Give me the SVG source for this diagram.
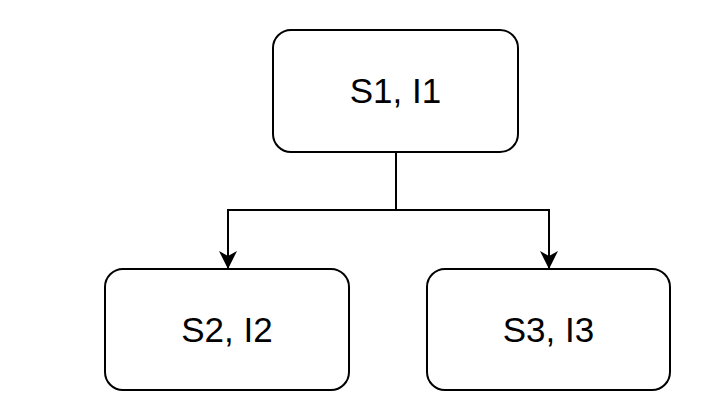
<svg xmlns="http://www.w3.org/2000/svg" width="724" height="406" viewBox="0 0 724 406">
<style>
.box{fill:#fff;stroke:#000;stroke-width:2}
.lbl{font-family:"Liberation Sans",Arial,sans-serif;font-size:35px;fill:#000;text-anchor:middle}
.edge{fill:none;stroke:#000;stroke-width:2}
</style>
<defs>
<marker id="arr" markerWidth="18" markerHeight="18" refX="17" refY="9" orient="auto" markerUnits="userSpaceOnUse" viewBox="0 0 18 18">
<path d="M0,0 L18,9 L0,18 L5,9 Z" fill="#000"/>
</marker>
</defs>
<rect width="724" height="406" fill="#fff"/>
<g id="connectors">
<path class="edge" d="M396,153 V210 H228 V268" marker-end="url(#arr)"/>
<path class="edge" d="M396,210 H549 V268" marker-end="url(#arr)"/>
</g>
<g id="n1">
<rect class="box" x="273" y="30" width="245" height="122" rx="18"/>
<text class="lbl" x="395.5" y="103">S1, I1</text>
</g>
<g id="n2">
<rect class="box" x="105" y="269" width="244" height="121" rx="18"/>
<text class="lbl" x="227" y="342">S2, I2</text>
</g>
<g id="n3">
<rect class="box" x="427" y="269" width="243" height="121" rx="18"/>
<text class="lbl" x="548.5" y="342">S3, I3</text>
</g>
</svg>
